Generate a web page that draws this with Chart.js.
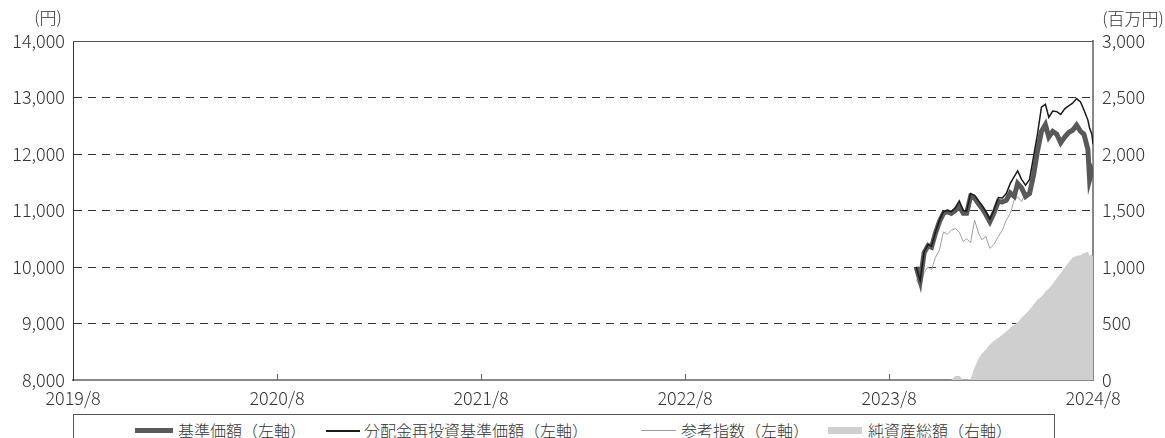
<!DOCTYPE html>
<html>
<head>
<meta charset="utf-8">
<script src="https://cdn.jsdelivr.net/npm/chart.js@4"></script>
<style>
  body { margin: 0; background: #fff; font-family: "Noto Sans CJK JP", sans-serif; color: #333; }
  #wrap { position: relative; width: 1165px; height: 438px; overflow: hidden; }
  #legend { position: absolute; left: 73px; top: 414px; width: 982px; height: 40px; border: 1px solid #555; box-sizing: border-box; }
  .item { position: absolute; top: 5px; font-size: 16px; font-weight: 300; line-height: 20px; white-space: nowrap; }
  .mark { position: absolute; }
</style>
</head>
<body>
<div id="wrap">
  <canvas id="chart" width="1165" height="410"></canvas>
  <div id="legend">
    <div class="mark" style="left:61px; top:13px; width:38px; height:5px; background:#5a5a5a;"></div>
    <div class="item" style="left:104px;">基準価額（左軸）</div>
    <div class="mark" style="left:252px; top:15px; width:34px; height:2px; background:#1a1a1a;"></div>
    <div class="item" style="left:290px;">分配金再投資基準価額（左軸）</div>
    <div class="mark" style="left:567px; top:15px; width:35px; height:1px; background:#a0a0a0;"></div>
    <div class="item" style="left:607px;">参考指数（左軸）</div>
    <div class="mark" style="left:754px; top:12px; width:34px; height:7px; background:#cfcfcf;"></div>
    <div class="item" style="left:794px;">純資産総額（右軸）</div>
  </div>
</div>
<script>
// dates (weekly, from fund inception)
const dates = [
  "2023/10/8", "2023/10/15", "2023/10/22", "2023/10/29", "2023/11/5", "2023/11/12", "2023/11/19", "2023/11/26",
  "2023/12/3", "2023/12/10", "2023/12/17", "2023/12/24", "2023/12/31", "2024/1/7", "2024/1/14", "2024/1/21",
  "2024/1/28", "2024/2/4", "2024/2/11", "2024/2/18", "2024/2/25", "2024/3/3", "2024/3/10", "2024/3/17",
  "2024/3/24", "2024/3/31", "2024/4/7", "2024/4/14", "2024/4/21", "2024/4/28", "2024/5/5", "2024/5/12",
  "2024/5/19", "2024/5/26", "2024/6/2", "2024/6/9", "2024/6/16", "2024/6/23", "2024/6/30", "2024/7/7",
  "2024/7/14", "2024/7/21", "2024/7/28", "2024/8/4", "2024/8/11", "2024/8/14", "2024/8/18", "2024/8/20"
];

// 基準価額 (円)
const navValues = [
  10000, 9750, 10250, 10380, 10350, 10600, 10800, 10950, 10980, 10950,
  11000, 11080, 10950, 10950, 11250, 11220, 11120, 11040, 10930, 10800,
  10950, 11160, 11150, 11180, 11310, 11250, 11480, 11400, 11250, 11300,
  11620, 12050, 12400, 12520, 12300, 12400, 12350, 12200, 12300, 12380,
  12420, 12510, 12400, 12350, 12080, 11550, 11700, 11650
];

// 分配金再投資基準価額 (円)
const reinvestValues = [
  10000, 9760, 10270, 10400, 10370, 10620, 10830, 10980, 11000, 10980,
  11050, 11170, 11000, 10990, 11300, 11270, 11170, 11090, 10980, 10850,
  11010, 11230, 11220, 11300, 11480, 11600, 11700, 11550, 11450, 11550,
  11950, 12350, 12830, 12880, 12650, 12760, 12750, 12700, 12800, 12850,
  12900, 12980, 12920, 12780, 12600, 12460, 12350, 12180
];

// 参考指数 (円)
const indexValues = [
  9780, 9650, 9900, 10000, 9950, 10170, 10300, 10620, 10580, 10650,
  10680, 10620, 10450, 10500, 10430, 10830, 10600, 10480, 10540, 10330,
  10400, 10540, 10650, 10830, 10950, 11190, 11240, 11160, 11310, 11330,
  11600, 12030, 12380, 12500, 12280, 12380, 12330, 12180, 12280, 12360,
  12400, 12490, 12380, 12330, 12100, 11650, 11800, 11900
];

// 純資産総額 (百万円)
const assetValues = [
  0, 0, 0, 0, 0, 0, 0, 0, 0, 0,
  35, 35, 5, 5, 10, 110, 190, 235, 270, 315,
  345, 375, 400, 430, 460, 490, 510, 550, 585, 625,
  665, 710, 740, 780, 810, 850, 900, 945, 995, 1040,
  1085, 1100, 1105, 1125, 1135, 1100, 1110, 1090
];

const startYear = 2019;
const yearLabels = ["2019/8", "2020/8", "2021/8", "2022/8", "2023/8", "2024/8"];

// months since 2019/8/20
function toMonths(d) {
  const [y, m, day] = d.split("/").map(Number);
  return (y - startYear) * 12 + (m - 8) + (day - 20) / 30;
}

function series(values) {
  return values.map((v, i) => ({ x: toMonths(dates[i]), y: v }));
}

const extras = {
  id: "extras",
  afterDraw(chart) {
    const { ctx, chartArea: a, scales } = chart;
    ctx.save();
    ctx.strokeStyle = "#555";
    ctx.lineWidth = 1;
    ctx.beginPath();
    ctx.moveTo(a.left, a.top + 0.5);
    ctx.lineTo(a.right, a.top + 0.5);
    ctx.stroke();

    ctx.strokeStyle = "#666";
    scales.x.ticks.forEach((t, i) => {
      if (i === 0 || i === scales.x.ticks.length - 1) return;
      const px = Math.round(scales.x.getPixelForValue(t.value)) + 0.5;
      ctx.beginPath();
      ctx.moveTo(px, a.bottom);
      ctx.lineTo(px, a.bottom - 6);
      ctx.stroke();
    });

    ctx.fillStyle = "#333";
    ctx.font = '300 17px "Noto Sans CJK JP"';
    ctx.textAlign = "center";
    ctx.textBaseline = "middle";
    ctx.fillText("(円)", 48, 18);
    ctx.fillText("(百万円)", 1133, 19);
    ctx.restore();
  }
};

Chart.defaults.font.family = '"Noto Sans CJK JP", sans-serif';
Chart.defaults.font.size = 18;
Chart.defaults.font.weight = 300;
Chart.defaults.color = "#333";

new Chart(document.getElementById("chart"), {
  type: "line",
  data: {
    datasets: [
      {
        label: "分配金再投資基準価額（左軸）",
        data: series(reinvestValues),
        borderColor: "#1a1a1a",
        borderWidth: 1.5,
        yAxisID: "y",
        order: 0,
      },
      {
        label: "基準価額（左軸）",
        data: series(navValues),
        borderColor: "#595959",
        borderWidth: 5,
        yAxisID: "y",
        order: 1,
      },
      {
        label: "参考指数（左軸）",
        data: series(indexValues),
        borderColor: "#a0a0a0",
        borderWidth: 1,
        yAxisID: "y",
        order: 2,
      },
      {
        label: "純資産総額（右軸）",
        data: series(assetValues),
        borderWidth: 0,
        borderColor: "#cfcfcf",
        backgroundColor: "#cfcfcf",
        fill: "origin",
        yAxisID: "y1",
        order: 3,
      },
    ],
  },
  options: {
    responsive: false,
    animation: false,
    layout: { padding: { top: 41, left: 0, right: 0, bottom: 0 } },
    elements: { point: { radius: 0 }, line: { tension: 0 } },
    plugins: { legend: { display: false }, tooltip: { enabled: false } },
    scales: {
      x: {
        type: "linear",
        min: 0,
        max: 60,
        afterFit: (s) => { s.height = 30; },
        grid: { display: false, drawTicks: false },
        border: { color: "#888", width: 2 },
        ticks: {
          stepSize: 12,
          autoSkip: false,
          maxRotation: 0,
          padding: 7,
          callback: (v) => yearLabels[v / 12],
        },
      },
      y: {
        position: "left",
        min: 8000,
        max: 14000,
        afterFit: (s) => { s.width = 73; },
        grid: {
          drawTicks: false,
          color: (c) => (c.tick.value === 8000 || c.tick.value === 14000) ? "rgba(0,0,0,0)" : "#333",
        },
        border: { color: "#333", width: 1, dash: [8, 6] },
        ticks: { stepSize: 1000, padding: 8, callback: (v) => v.toLocaleString("en-US") },
      },
      y1: {
        position: "right",
        min: 0,
        max: 3000,
        afterFit: (s) => { s.width = 72; },
        grid: { display: false, drawTicks: false },
        border: { color: "#888", width: 2 },
        ticks: { stepSize: 500, padding: 9, callback: (v) => v.toLocaleString("en-US") },
      },
    },
  },
  plugins: [extras],
});
</script>
</body>
</html>
